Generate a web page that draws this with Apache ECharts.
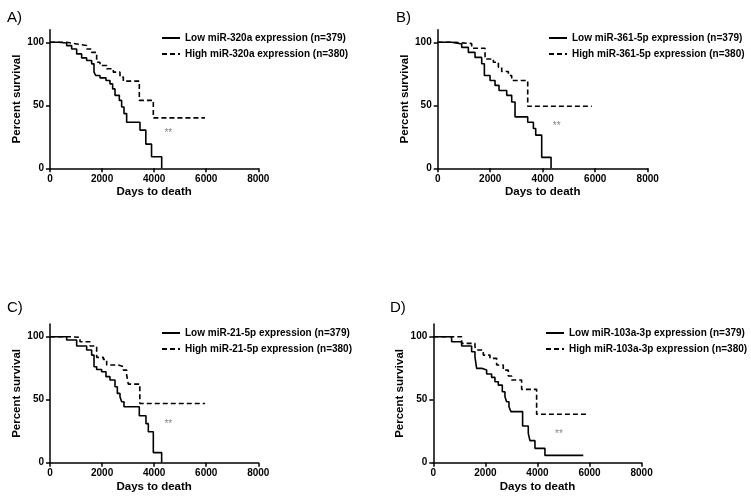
<!DOCTYPE html>
<html><head><meta charset="utf-8">
<script src="https://cdn.jsdelivr.net/npm/echarts@6/dist/echarts.min.js"></script>
<style>html,body{margin:0;padding:0;background:#fff}#c{width:751px;height:498px}</style>
</head><body><div id="c"></div>
<script>
// Panel labels and legend names
const panelLabels = ['A)', 'B)', 'C)', 'D)'];
const lowNames = ['Low miR-320a expression (n=379)', 'Low miR-361-5p expression (n=379)', 'Low miR-21-5p expression (n=379)', 'Low miR-103a-3p expression (n=379)'];
const highNames = ['High miR-320a expression (n=380)', 'High miR-361-5p expression (n=380)', 'High miR-21-5p expression (n=380)', 'High miR-103a-3p expression (n=380)'];
const xTicks = [0, 2000, 4000, 6000, 8000];
const yTicks = [0, 50, 100];

// Panel A
const lowA_t = [0, 320, 640, 832, 1024, 1216, 1408, 1600, 1690, 1754, 1920, 2150, 2304, 2406, 2496, 2662, 2752, 2842, 2944, 3456, 3680, 3900, 4290];
const lowA_s = [100, 99.5, 97.4, 94.7, 90.8, 87.6, 85.5, 82.9, 76.3, 73.7, 71.8, 69.7, 67, 63, 57.9, 53.9, 48.7, 43.4, 36.6, 30.3, 19.2, 9.2, 0];
const highA_t = [0, 640, 1024, 1408, 1600, 1792, 1920, 2176, 2432, 2688, 2816, 3430, 3968, 5950];
const highA_s = [100, 98.7, 97.4, 94.7, 92, 84.2, 81.6, 79, 76.3, 72.4, 69.2, 53.9, 40, 40];
// Panel B
const lowB_t = [0, 533, 914, 1168, 1422, 1676, 1778, 1994, 2184, 2337, 2629, 2819, 2946, 3429, 3645, 3734, 3962, 4318];
const lowB_s = [100, 98.7, 96, 92, 88, 83, 73.7, 69.7, 65.8, 61.8, 57.9, 52.6, 40.8, 36.6, 31.6, 26.3, 8.7, 0];
const highB_t = [0, 610, 1295, 1803, 2121, 2311, 2438, 2692, 2819, 3429, 5870];
const highB_s = [100, 99, 95.3, 86.8, 84.2, 80.3, 76.8, 73.7, 69.7, 49.2, 49.2];
// Panel C
const lowC_t = [0, 640, 1024, 1408, 1600, 1690, 1792, 1984, 2150, 2304, 2496, 2586, 2688, 2752, 2842, 3430, 3686, 3776, 3968, 4288];
const lowC_s = [100, 97.4, 92.6, 89.4, 85.4, 76.2, 74, 72.2, 68.3, 65.6, 60.3, 55, 52.4, 48.4, 44.4, 37.3, 31, 24.6, 8, 0];
const highC_t = [0, 768, 1152, 1536, 1792, 2048, 2176, 2624, 2816, 2944, 3008, 3450, 5950];
const highC_s = [100, 99.5, 96, 92.6, 83.6, 82, 77.5, 76.2, 73.5, 69.6, 62.4, 47, 47];
// Panel D
const lowD_t = [0, 704, 1088, 1472, 1600, 1664, 1856, 2048, 2240, 2368, 2496, 2650, 2752, 2816, 2906, 2982, 3430, 3648, 3712, 3904, 4288, 5760];
const lowD_s = [100, 96, 92.6, 88, 84, 74.9, 73.5, 70.4, 67.7, 64.3, 61.6, 56.3, 52.4, 48.4, 44.4, 40.5, 29.1, 23.3, 17.5, 11.4, 5.8, 5.8];
const highD_t = [0, 1088, 1600, 1664, 1920, 2176, 2432, 2688, 2880, 3008, 3392, 3968, 5888];
const highD_s = [100, 94.7, 92, 89.4, 85.4, 82.8, 77.5, 73.5, 68.8, 65.6, 58.2, 38.4, 38.4];
// Significance markers (**) positions
const starDays = [4544, 4534, 4544, 4826];
const starVals = [27.6, 33, 30.7, 22.8];

const lows = [[lowA_t, lowA_s], [lowB_t, lowB_s], [lowC_t, lowC_s], [lowD_t, lowD_s]];
const highs = [[highA_t, highA_s], [highB_t, highB_s], [highC_t, highC_s], [highD_t, highD_s]];
const zip = (t, s) => t.map((v, i) => [v, s[i]]);

const FONT = 'Liberation Sans, Arial, sans-serif';
const grids = [
  {left: 50, top: 29.7, width: 208.3, height: 138.6},
  {left: 437.7, top: 29.7, width: 210, height: 138.6},
  {left: 50, top: 324.1, width: 208.3, height: 138.6},
  {left: 433.3, top: 324.1, width: 208.3, height: 138.6}
];
const legendPos = [
  {left: 161, top: 32}, {left: 548, top: 32}, {left: 161, top: 327}, {left: 545, top: 327}
];
const titlePos = [
  {left: 2, top: 5}, {left: 391, top: 5}, {left: 2, top: 295}, {left: 385, top: 295}
];

const axisCommon = {
  axisLine: {show: true, lineStyle: {color: '#000', width: 1.5}},
  splitLine: {show: false}
};

const option = {
  animation: false,
  backgroundColor: '#fff',
  title: panelLabels.map((t, i) => ({text: t, left: titlePos[i].left, top: titlePos[i].top,
    textStyle: {fontFamily: FONT, fontSize: 15, fontWeight: 'normal', color: '#000'}})),
  grid: grids,
  legend: grids.map((g, i) => ({
    left: legendPos[i].left, top: legendPos[i].top, orient: 'vertical',
    itemWidth: 18, itemHeight: 12, itemGap: 4, padding: 0,
    itemStyle: {opacity: 0},
    data: [lowNames[i], highNames[i]],
    textStyle: {fontFamily: FONT, fontSize: 10, fontWeight: 'bold', color: '#000', lineHeight: 12}
  })),
  xAxis: grids.map((g, i) => Object.assign({}, axisCommon, {
    gridIndex: i, type: 'value', min: 0, max: 8000, interval: 2000,
    name: 'Days to death', nameLocation: 'middle', nameGap: 18,
    nameTextStyle: {fontFamily: FONT, fontSize: 11.5, fontWeight: 'bold', color: '#000'},
    axisTick: {show: true, inside: false, length: 4, customValues: xTicks, lineStyle: {color: '#000', width: 1.5}},
    axisLabel: {fontFamily: FONT, fontSize: 10, fontWeight: 'bold', color: '#000', margin: 6,
      customValues: xTicks, formatter: v => String(v)}
  })),
  yAxis: grids.map((g, i) => Object.assign({}, axisCommon, {
    gridIndex: i, type: 'value', min: 0, max: 110, interval: 50,
    name: 'Percent survival', nameLocation: 'middle', nameGap: 27,
    nameTextStyle: {fontFamily: FONT, fontSize: 11.5, fontWeight: 'bold', color: '#000'},
    axisTick: {show: true, inside: false, length: 4, customValues: yTicks, lineStyle: {color: '#000', width: 1.5}},
    axisLabel: {fontFamily: FONT, fontSize: 10, fontWeight: 'bold', color: '#000', margin: 6,
      customValues: yTicks, formatter: v => String(v)}
  })),
  series: []
};

for (let i = 0; i < 4; i++) {
  option.series.push({
    name: lowNames[i], type: 'line', step: 'end', xAxisIndex: i, yAxisIndex: i,
    data: zip(lows[i][0], lows[i][1]), symbol: 'none', silent: true,
    color: '#000', lineStyle: {color: '#000', width: 1.6, type: 'solid'}
  });
  option.series.push({
    name: highNames[i], type: 'line', step: 'end', xAxisIndex: i, yAxisIndex: i,
    data: zip(highs[i][0], highs[i][1]), symbol: 'none', silent: true,
    color: '#000', lineStyle: {color: '#000', width: 1.6, type: [5, 3]}
  });
  option.series.push({
    name: 'sig' + i, type: 'scatter', xAxisIndex: i, yAxisIndex: i,
    data: [[starDays[i], starVals[i]]], symbolSize: 0, silent: true,
    label: {show: true, position: 'inside', formatter: '**', fontFamily: FONT, fontSize: 10, color: '#666'}
  });
}

const chart = echarts.init(document.getElementById('c'), null, {renderer: 'canvas'});
chart.setOption(option);
</script></body></html>
